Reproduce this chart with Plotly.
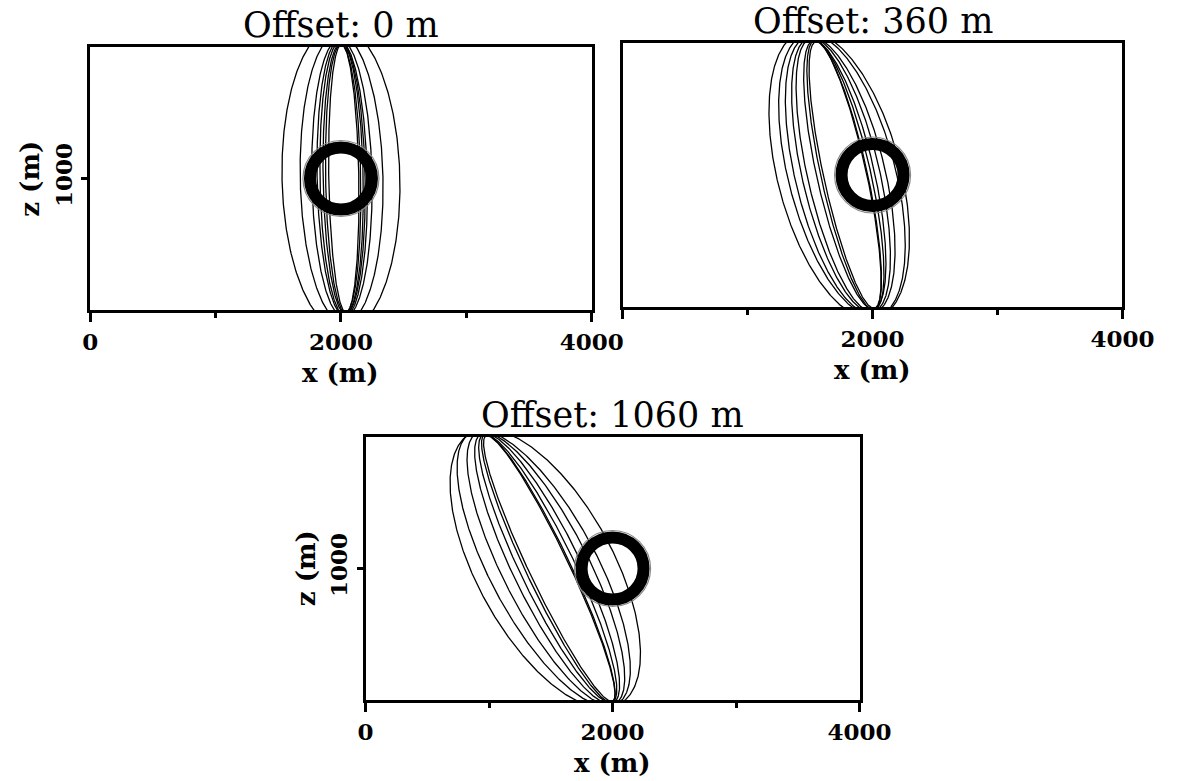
import numpy as np
import plotly.graph_objects as go

# ---------------- data ----------------
titles = ["Offset: 0 m", "Offset: 360 m", "Offset: 1060 m"]
x_tick_vals = [0, 2000, 4000]
x_minor_vals = [1000, 3000]
z_tick_vals = [1000]
ring_center = (2000, 1000)

# each curve: centre x of its crossing with the top (z=0) and bottom (z=2000),
# horizontal half width at z=1000, and how far its tips reach past the frame
p1_top = [1980, 1985, 1990, 1990, 1995, 2000, 2000, 2005]
p1_bot = [2020, 2025, 2025, 2030, 2030, 2035, 2035, 2040]
p1_half = [470, 330, 240, 200, 180, 160, 140, 120]
p1_reach = [1.16, 1.10, 1.06, 1.05, 1.04, 1.03, 1.02, 1.02]

p2_top = [1506, 1520, 1514, 1520, 1520, 1540, 1546, 1553]
p2_bot = [1960, 1990, 1968, 1975, 1975, 2000, 2000, 2007]
p2_half = [505, 440, 369, 317, 273, 220, 189, 175]
p2_reach = [1.09, 1.07, 1.05, 1.04, 1.03, 1.02, 1.02, 1.01]

p3_top = [1010, 955, 970, 980, 980, 985, 990]
p3_bot = [1900, 1930, 1950, 1960, 1970, 1975, 1985]
p3_half = [610, 480, 385, 300, 241, 195, 176]
p3_reach = [1.06, 1.05, 1.04, 1.03, 1.02, 1.02, 1.01]

panels = [
    (p1_top, p1_bot, p1_half, p1_reach),
    (p2_top, p2_bot, p2_half, p2_reach),
    (p3_top, p3_bot, p3_half, p3_reach),
]

# ---------------- layout geometry (pixels of a 1195x781 page) ----------------
W, H = 1195, 781
boxes = [(85, 604, 47, 310), (636, 1153, 43, 307), (370, 881, 437, 700)]


def px_dom(b):
    l, r, t, btm = b
    return [l / W, r / W], [1 - btm / H, 1 - t / H]


fig = go.Figure()
serif = "DejaVu Serif"
t = np.linspace(0, 2 * np.pi, 600)

for i, (tops, bots, halfs, reach) in enumerate(panels):
    xa = "x" if i == 0 else f"x{i+1}"
    ya = "y" if i == 0 else f"y{i+1}"
    for xt, xb, w, k in zip(tops, bots, halfs, reach):
        cx = (xt + xb) / 2
        dx = (xb - xt) / 2
        xs = cx + k * dx * np.cos(t) + w * np.sin(t)
        zs = 1000 + k * 1000 * np.cos(t)
        fig.add_trace(go.Scatter(x=xs, y=zs, mode="lines", xaxis=xa, yaxis=ya,
                                 line=dict(color="black", width=1.3),
                                 hoverinfo="skip", showlegend=False))
    # ring
    fig.add_trace(go.Scatter(x=[ring_center[0]], y=[ring_center[1]], mode="markers",
                             xaxis=xa, yaxis=ya, showlegend=False, hoverinfo="skip",
                             marker=dict(symbol="circle-open", size=76, color="#888",
                                         line=dict(width=1.2))))
    fig.add_trace(go.Scatter(x=[ring_center[0]], y=[ring_center[1]], mode="markers",
                             xaxis=xa, yaxis=ya, showlegend=False, hoverinfo="skip",
                             marker=dict(symbol="circle-open", size=62, color="black",
                                         line=dict(width=12))))

layout = dict(width=W, height=H, margin=dict(l=0, r=0, t=0, b=0),
              paper_bgcolor="white", plot_bgcolor="white", showlegend=False)

annotations = []
for i, b in enumerate(boxes):
    xd, yd = px_dom(b)
    sx = "xaxis" if i == 0 else f"xaxis{i+1}"
    sy = "yaxis" if i == 0 else f"yaxis{i+1}"
    ya = "y" if i == 0 else f"y{i+1}"
    xa = "x" if i == 0 else f"x{i+1}"
    ticktext = ["<b>%d</b>" % v for v in x_tick_vals]
    if i == 1:
        ticktext[0] = ""
    layout[sx] = dict(domain=xd, range=[0, 4000], anchor=ya,
                      tickmode="array", tickvals=x_tick_vals, ticktext=ticktext,
                      ticks="outside", ticklen=9, tickwidth=2.5, tickcolor="black",
                      minor=dict(tickmode="array", tickvals=x_minor_vals, ticks="outside",
                                 ticklen=5, tickwidth=2.5, tickcolor="black"),
                      showline=True, linecolor="black", linewidth=3, mirror=True,
                      showgrid=False, zeroline=False,
                      tickfont=dict(family=serif, size=23, color="black"))
    ydict = dict(domain=yd, range=[2000, 0], anchor=xa,
                 showline=True, linecolor="black", linewidth=3, mirror=True,
                 showgrid=False, zeroline=False)
    if i == 1:
        ydict.update(showticklabels=False, ticks="")
    else:
        ydict.update(tickmode="array", tickvals=z_tick_vals,
                     ticktext=["<b>%d</b>" % v for v in z_tick_vals],
                     ticks="outside", ticklen=6, tickwidth=2.5, tickcolor="black",
                     tickangle=-90,
                     tickfont=dict(family=serif, size=23, color="black"))
    layout[sy] = ydict

    l, r, tp, bt = b
    cxp = (l + r) / 2
    # panel title
    annotations.append(dict(text=titles[i], x=cxp / W, y=1 - (tp - 22) / H,
                            xref="paper", yref="paper", showarrow=False,
                            xanchor="center", yanchor="middle",
                            font=dict(family=serif, size=35, color="black")))
    # x label
    annotations.append(dict(text="<b>x (m)</b>", x=cxp / W, y=1 - (bt + 63) / H,
                            xref="paper", yref="paper", showarrow=False,
                            xanchor="center", yanchor="middle",
                            font=dict(family=serif, size=26, color="black")))
    if i != 1:
        annotations.append(dict(text="<b>z (m)</b>", x=(l - 62) / W, y=1 - ((tp + bt) / 2) / H,
                                xref="paper", yref="paper", showarrow=False, textangle=-90,
                                xanchor="center", yanchor="middle",
                                font=dict(family=serif, size=26, color="black")))

layout["annotations"] = annotations
fig.update_layout(**layout)
fig.write_html("out.html")
